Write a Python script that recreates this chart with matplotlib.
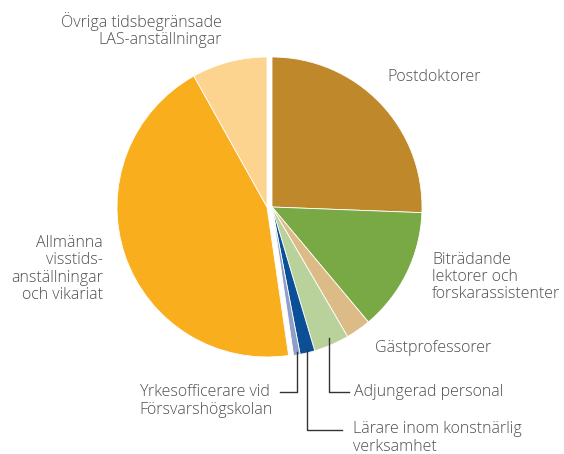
import matplotlib
matplotlib.use("Agg")
import matplotlib.pyplot as plt

categories = [
    "Postdoktorer",
    "Biträdande\nlektorer och\nforskarassistenter",
    "Gästprofessorer",
    "Adjungerad personal",
    "Lärare inom konstnärlig\nverksamhet",
    "Yrkesofficerare vid\nFörsvarshögskolan",
    "Allmänna\nvisstids-\nanställningar\noch vikariat",
    "Övriga tidsbegränsade\nLAS-anställningar",
]
shares = [25.6, 13.3, 2.7, 3.8, 1.6, 0.7, 44.2, 8.1]
colors = ["#BE882B", "#79A944", "#DDBB87", "#B9D19B", "#0B4F96",
          "#8F9DC9", "#F9AF1D", "#FDD390"]

W, H = 564, 454
fig = plt.figure(figsize=(W / 100, H / 100), dpi=100)
ax = fig.add_axes([0, 0, 1, 1])

def py(y):
    return H - y

cx, cy, r = 272, 207, 150
wedges, _ = ax.pie(shares, colors=colors, startangle=90, counterclock=False,
                   center=(cx, py(cy)), radius=r, frame=True,
                   wedgeprops=dict(edgecolor="white", linewidth=0.6))
# the two general fixed-term groups are pulled slightly to the left
for w in wedges[6:]:
    w.set_center((cx - 5, py(cy)))

ax.set_xlim(0, W)
ax.set_ylim(0, H)
ax.set_aspect("equal")
ax.axis("off")

tc = "#4f4f4f"
fs = 11.5
font = dict(color=tc, fontsize=fs, family=["Open Sans", "DejaVu Sans"],
            weight="light", linespacing=1.1)

ax.text(387, py(77), categories[0], ha="left", va="center", **font)
ax.text(432, py(277), categories[1], ha="left", va="center", **font)
ax.text(375, py(348), categories[2], ha="left", va="center", **font)
ax.text(354, py(392), categories[3], ha="left", va="center", **font)
ax.text(353, py(438), categories[4], ha="left", va="center", **font)
ax.text(273, py(401), categories[5], ha="right", va="center", **font,
        multialignment="left")
ax.text(103, py(269), categories[6], ha="right", va="center", **font)
ax.text(222, py(30), categories[7], ha="right", va="center", **font)

lc = "#333333"
lw = 1.0
ax.plot([329, 329, 349], [py(338), py(392), py(392)], color=lc, lw=lw)
ax.plot([307, 307, 342], [py(350), py(430), py(430)], color=lc, lw=lw)
ax.plot([297, 297, 280], [py(352), py(392), py(392)], color=lc, lw=lw)

fig.savefig("out.png", dpi=100)
